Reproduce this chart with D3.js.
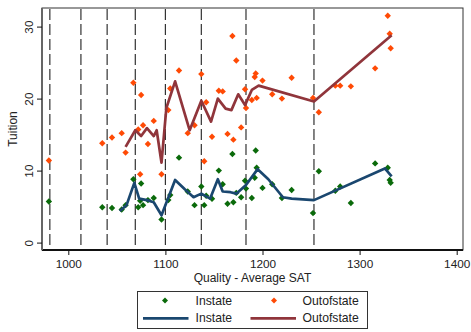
<!DOCTYPE html>
<html>
<head>
<meta charset="utf-8">
<script src="https://cdn.jsdelivr.net/npm/d3@7"></script>
<style>
  html, body { margin: 0; padding: 0; background: #fff; }
  svg { display: block; font-family: "Liberation Sans", Arial, sans-serif; }
</style>
</head>
<body>
<svg id="chart" width="471" height="332"></svg>
<script>
// Average SAT of each school and its tuition (thousands)
const sat = [980,1035,1045,1055,1059,1067,1075,1072,1077,1074,1082,1088,1096,1103,1105,1114,
  1123,1130,1137,1140,1142,1148,1155,1159,1164,1169,1170,1173,1178,1182,1183,1189,1192,1193,
  1194,1200,1210,1220,1230,1252,1258,1275,1280,1291,1316,1329,1331,1332];
const instate = [5.7,4.9,4.8,4.6,5.2,8.8,8.2,4.9,5.2,5.8,5.9,6.2,3.2,5.9,6.6,11.8,
  7.1,5.2,7.8,5.2,6.5,6.1,10.0,8.1,5.4,12.3,5.6,6.9,6.3,8.6,7.5,6.2,9.0,12.8,
  10.4,7.6,8.1,6.2,7.3,4.1,9.9,7.2,7.8,5.5,11.0,10.4,8.7,8.3];
const outofstate = [11.4,13.8,14.6,15.2,12.5,22.2,20.5,15.7,16.3,9.5,13.7,16.9,9.5,18.4,21.4,23.9,
  15.2,16.3,23.4,11.3,19.5,14.7,21.1,21.0,15.1,28.7,14.3,25.3,16.0,21.3,18.7,19.8,23.0,23.5,
  20.1,22.5,20.6,20.0,22.9,20.1,18.1,21.8,21.8,21.7,24.2,31.5,29.0,27.0];

// Smoothed tuition curves
const instateFitSat = [1053,1060,1068,1073,1081,1088,1096,1110,1120,1129,1137,1146,1154,1159,
  1167,1173,1183,1195,1206,1221,1230,1253,1326,1333];
const instateFit = [4.4,5.2,8.3,6.1,5.9,5.6,3.8,8.7,7.4,6.3,6.8,6.1,8.8,7.1,
  7.0,6.8,8.0,10.2,8.8,6.3,6.1,5.9,10.3,9.2];
const outFitSat = [1059,1069,1075,1081,1088,1091,1096,1101,1110,1125,1137,1147,1154,1162,
  1168,1175,1182,1189,1196,1253,1333];
const outFit = [13.3,15.6,14.8,15.9,14.8,15.6,11.1,18.7,22.4,15.6,19.7,16.8,20.0,18.6,
  18.4,20.6,19.1,21.2,21.8,19.6,28.8];

// SAT group cut points
const cutpoints = [981,1013,1040,1069,1100,1137,1183,1253];

const xTicks = [1000,1100,1200,1300,1400];
const yTicks = [0,10,20,30];
const seriesNames = ["Instate","Outofstate"];

const colors = { inDot: "#0a6a0a", outDot: "#ff4a05", inLine: "#1a476f", outLine: "#90353b" };
const FONT = "Liberation Sans, Arial, sans-serif";

const svg = d3.select("#chart");
const box = { left: 42, top: 8, right: 463, bottom: 250 };

const x = d3.scaleLinear().domain([1000, 1400]).range([68.3, 456.7]);
const y = d3.scaleLinear().domain([0, 30]).range([242.6, 26.6]);

// plot region outline
svg.append("rect")
  .attr("x", box.left).attr("y", box.top)
  .attr("width", box.right - box.left).attr("height", box.bottom - box.top)
  .attr("fill", "#fff").attr("stroke", "#333").attr("stroke-width", 1);

// dashed cut lines
svg.append("g").selectAll("line").data(cutpoints).join("line")
  .attr("x1", d => x(d)).attr("x2", d => x(d))
  .attr("y1", box.top + 1).attr("y2", box.bottom)
  .attr("stroke", "#333").attr("stroke-width", 1.2)
  .attr("stroke-dasharray", "11,4");

// axes
const xAxis = svg.append("g").attr("transform", `translate(0,${box.bottom})`)
  .call(d3.axisBottom(x).tickValues(xTicks).tickSize(5).tickPadding(5).tickFormat(d3.format("d")));
xAxis.select(".domain").attr("d", `M${box.left},0H${box.right}`).attr("stroke", "#111").attr("stroke-width", 2);
xAxis.selectAll(".tick line").attr("stroke", "#111");
xAxis.selectAll(".tick text").attr("font-size", 11.8).attr("fill", "#222").attr("font-family", FONT);

const yAxis = svg.append("g").attr("transform", `translate(${box.left},0)`)
  .call(d3.axisLeft(y).tickValues(yTicks).tickSize(5).tickPadding(0).tickFormat(d3.format("d")));
yAxis.select(".domain").attr("d", `M0,${box.top}V${box.bottom}`).attr("stroke", "#666").attr("stroke-width", 2);
yAxis.selectAll(".tick line").attr("stroke", "#111");
yAxis.selectAll(".tick text")
  .attr("font-size", 11.8).attr("fill", "#222").attr("font-family", FONT)
  .attr("x", null).attr("dy", null)
  .attr("text-anchor", "middle")
  .attr("transform", "translate(-8.8,0) rotate(-90)");

// axis titles
svg.append("text").attr("x", (box.left + box.right) / 2).attr("y", 281.5)
  .attr("text-anchor", "middle").attr("font-size", 12).attr("fill", "#222")
  .text("Quality - Average SAT");
svg.append("text").attr("transform", `translate(16.5,${(box.top + box.bottom) / 2}) rotate(-90)`)
  .attr("text-anchor", "middle").attr("font-size", 12).attr("fill", "#222")
  .text("Tuition");

const diamond = r => `M0,${-r}L${r},0L0,${r}L${-r},0Z`;

// scatter points
const pts = svg.append("g");
pts.selectAll(".in").data(sat.map((s, i) => [s, instate[i]])).join("path")
  .attr("d", diamond(3.2)).attr("fill", colors.inDot)
  .attr("transform", d => `translate(${x(d[0])},${y(d[1])})`);
pts.selectAll(".out").data(sat.map((s, i) => [s, outofstate[i]])).join("path")
  .attr("d", diamond(3.2)).attr("fill", colors.outDot)
  .attr("transform", d => `translate(${x(d[0])},${y(d[1])})`);

// smoothed lines
const line = d3.line().x(d => x(d[0])).y(d => y(d[1]));
svg.append("path").datum(instateFitSat.map((s, i) => [s, instateFit[i]]))
  .attr("d", line).attr("fill", "none").attr("stroke", colors.inLine)
  .attr("stroke-width", 2.7).attr("stroke-linejoin", "round");
svg.append("path").datum(outFitSat.map((s, i) => [s, outFit[i]]))
  .attr("d", line).attr("fill", "none").attr("stroke", colors.outLine)
  .attr("stroke-width", 2.7).attr("stroke-linejoin", "round");

// legend
const lg = svg.append("g");
lg.append("rect").attr("x", 137.5).attr("y", 291.5).attr("width", 230).attr("height", 37)
  .attr("fill", "#fff").attr("stroke", "#333").attr("stroke-width", 1);
lg.append("path").attr("d", diamond(3)).attr("fill", colors.inDot).attr("transform", "translate(165,300.5)");
lg.append("path").attr("d", diamond(3)).attr("fill", colors.outDot).attr("transform", "translate(274,300.5)");
lg.append("line").attr("x1", 143).attr("x2", 188.5).attr("y1", 318.3).attr("y2", 318.3)
  .attr("stroke", colors.inLine).attr("stroke-width", 2.7);
lg.append("line").attr("x1", 250.5).attr("x2", 296).attr("y1", 318.3).attr("y2", 318.3)
  .attr("stroke", colors.outLine).attr("stroke-width", 2.7);
const lt = [[195.5, 304.5, seriesNames[0]], [302.5, 304.5, seriesNames[1]],
            [195.5, 322, seriesNames[0]], [302.5, 322, seriesNames[1]]];
lg.selectAll("text").data(lt).join("text")
  .attr("x", d => d[0]).attr("y", d => d[1]).attr("font-size", 12.2).attr("fill", "#222")
  .text(d => d[2]);
</script>
</body>
</html>
